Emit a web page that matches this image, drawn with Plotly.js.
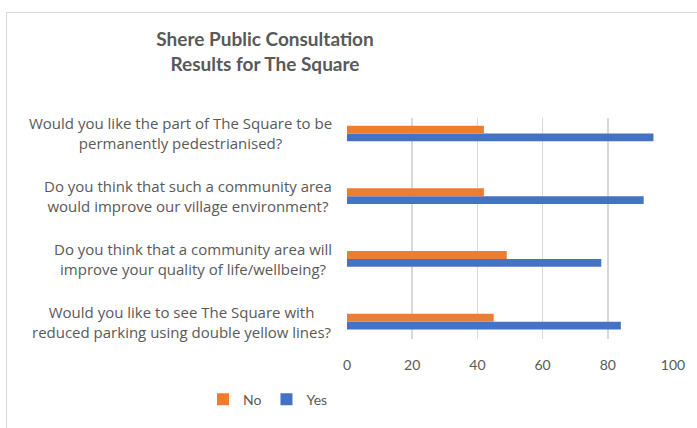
<!DOCTYPE html>
<html>
<head>
<meta charset="utf-8">
<script src="https://cdn.plot.ly/plotly-3.0.1.min.js"></script>
<style>
  html, body { margin: 0; padding: 0; background: #fff; }
  #wrap { position: relative; width: 697px; height: 428px; }
  #frame { position: absolute; left: 6px; top: 12px; right: -2px; bottom: -2px;
           border: 1px solid #d9d9d9; pointer-events: none; }
</style>
</head>
<body>
<div id="wrap">
  <div id="chart"></div>
  <div id="frame"></div>
</div>
<script>
// questions, top to bottom as shown on the chart
const questions = [
  'Would you like the part of The Square to be<br>permanently pedestrianised?',
  'Do you think that such a community area<br>would improve our village environment?',
  'Do you think that a community area will<br>improve your quality of life/wellbeing?',
  'Would you like to see The Square with<br>reduced parking using double yellow lines?',
];
const yesValues = [94, 91, 78, 84];
const noValues  = [42, 42, 49, 45];
const xTicks = [0, 20, 40, 60, 80, 100];

const GREY = '#595959';
const FONT = 'Lato, "Open Sans", sans-serif';
const LABEL_FONT = '"Open Sans", Lato, sans-serif';

const traces = [
  {
    type: 'bar', orientation: 'h', name: 'Yes',
    y: questions, x: yesValues,
    marker: { color: '#4472C4' },
    hoverinfo: 'x',
  },
  {
    type: 'bar', orientation: 'h', name: 'No',
    y: questions, x: noValues,
    marker: { color: '#ED7D31' },
    hoverinfo: 'x',
  },
];

// multi-line category labels: block right-aligned to the axis, lines centred
const labelAnnotations = questions.map(q => ({
  xref: 'paper', yref: 'y',
  x: (334 - 347) / 326, y: q,
  text: q,
  showarrow: false,
  xanchor: 'right', yanchor: 'middle', align: 'center',
  font: { family: LABEL_FONT, size: 15, color: GREY },
}));

const layout = {
  width: 697, height: 428,
  margin: { l: 347, r: 24, t: 118, b: 85 },
  paper_bgcolor: 'rgba(0,0,0,0)',
  plot_bgcolor: '#fff',
  barmode: 'group',
  bargap: 0.75,
  bargroupgap: 0,
  title: {
    text: '<b>Shere Public Consultation<br>Results for The Square</b>',
    xref: 'container', x: 265 / 697, xanchor: 'center',
    yref: 'container', y: 1 - 46 / 428, yanchor: 'middle',
    font: { family: FONT, size: 19, color: GREY },
  },
  xaxis: {
    range: [0, 100],
    tickvals: xTicks,
    ticktext: xTicks.map(String),
    showgrid: true, gridcolor: '#d9d9d9', gridwidth: 1.5,
    zeroline: false, showline: false,
    ticks: '', ticklabelstandoff: 16,
    tickfont: { family: FONT, size: 14, color: GREY },
    fixedrange: true,
  },
  yaxis: {
    type: 'category',
    categoryorder: 'array',
    categoryarray: questions.slice().reverse(),
    range: [-0.277, 3.247],
    autorange: false,
    showticklabels: false,
    showgrid: false, zeroline: false, showline: false,
    fixedrange: true,
  },
  showlegend: true,
  legend: {
    orientation: 'h', traceorder: 'reversed',
    x: (268 - 347) / 326, xanchor: 'center',
    y: (343 - 405) / 225.5, yanchor: 'middle',
    font: { family: FONT, size: 14, color: GREY },
    itemwidth: 30,
  },
  annotations: labelAnnotations,
};

Plotly.newPlot('chart', traces, layout, { displayModeBar: false, staticPlot: true });
</script>
</body>
</html>
